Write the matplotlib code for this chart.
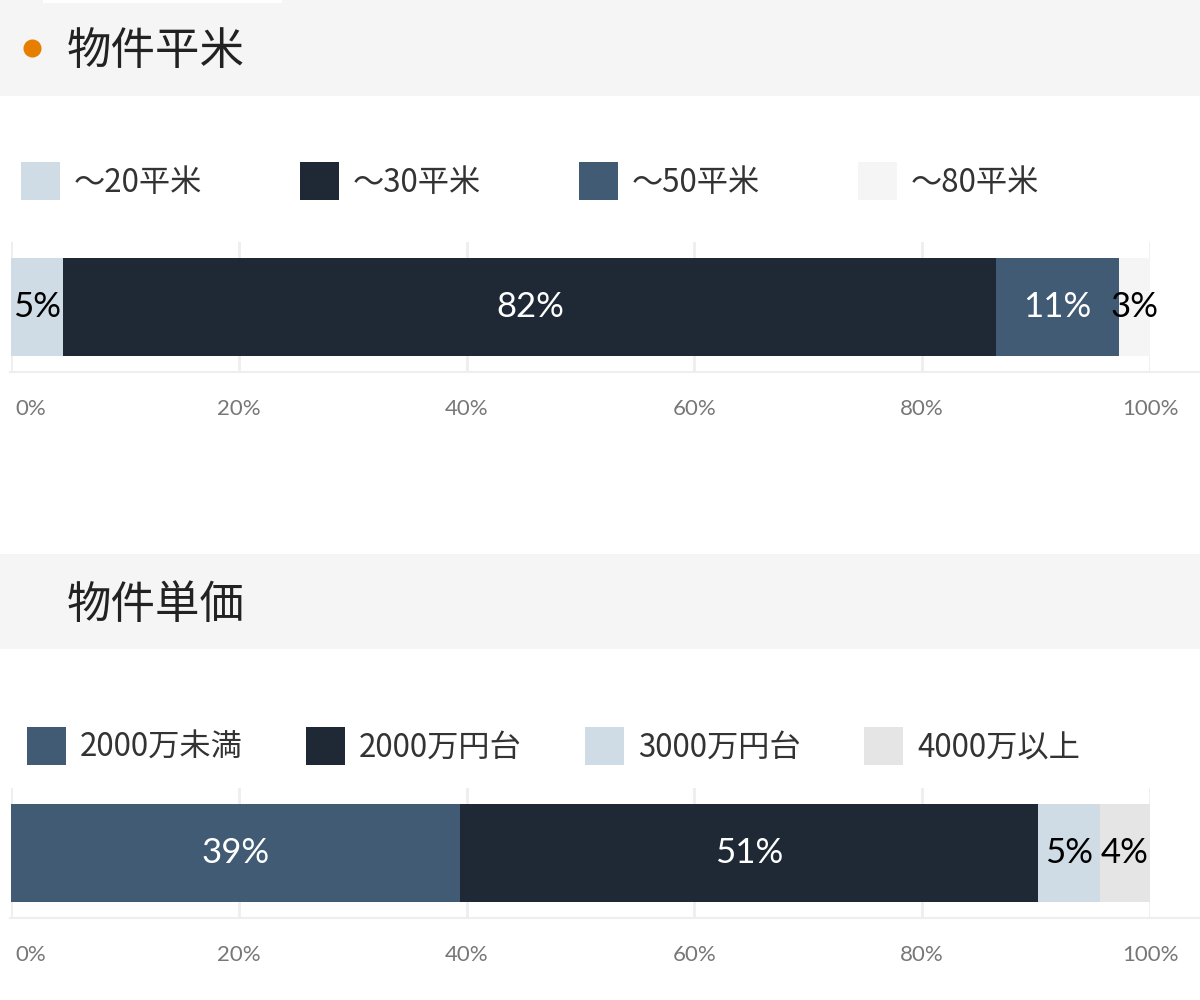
import matplotlib

matplotlib.use("Agg")
import matplotlib.pyplot as plt
from matplotlib.lines import Line2D
from matplotlib.patches import Rectangle

plt.rcParams["font.family"] = ["Lato", "Noto Sans CJK JP", "DejaVu Sans"]

W, H = 1200, 1000

# data
AREA_TITLE = "物件平米"
AREA_LABELS = ["～20平米", "～30平米", "～50平米", "～80平米"]
AREA_VALUES = [4.6, 81.9, 10.8, 2.7]
AREA_TEXT = ["5%", "82%", "11%", "3%"]
AREA_COLORS = ["#cfdbe5", "#1e2935", "#415b75", "#f5f5f5"]

PRICE_TITLE = "物件単価"
PRICE_LABELS = ["2000万未満", "2000万円台", "3000万円台", "4000万以上"]
PRICE_VALUES = [39.4, 50.8, 5.4, 4.4]
PRICE_TEXT = ["39%", "51%", "5%", "4%"]
PRICE_COLORS = ["#415b75", "#1e2935", "#cfdbe5", "#e5e5e5"]

TICKS = [0, 20, 40, 60, 80, 100]
TICK_LABELS = ["0%", "20%", "40%", "60%", "80%", "100%"]

DARK = {"#1e2935", "#415b75"}
CJK = ["Noto Sans CJK JP", "DejaVu Sans"]


def fx(x):
    return x / W


def fy(y):
    return 1 - y / H


def header(fig, y0, y1, title, dot):
    fig.add_artist(Rectangle((0, fy(y1)), 1, (y1 - y0) / H, transform=fig.transFigure,
                             facecolor="#f5f5f5", edgecolor="none", zorder=0))
    yc = (y0 + y1) / 2
    if dot:
        fig.add_artist(Line2D([fx(32)], [fy(yc)], transform=fig.transFigure, marker="o",
                              markersize=13, markerfacecolor="#e67e00", markeredgecolor="none",
                              linestyle="none"))
    fig.text(fx(67), fy(yc + 3), title, fontsize=32, color="#222222", ha="left", va="center",
             family=CJK)


def legend(fig, x_start, y0, labels, colors):
    for i, (lab, col) in enumerate(zip(labels, colors)):
        x = x_start + i * 279
        fig.add_artist(Rectangle((fx(x), fy(y0 + 38)), 39 / W, 38 / H, transform=fig.transFigure,
                                 facecolor=col, edgecolor="none"))
        fig.text(fx(x + 53), fy(y0 + 21), lab, fontsize=22.5, color="#333333",
                 ha="left", va="center", family=CJK)


def bar(fig, y_top, y_base, values, texts, colors):
    ax = fig.add_axes([fx(11), fy(y_base), fx(1150) - fx(11), (y_base - y_top) / H])
    ax.set_xlim(0, 100)
    ax.set_ylim(-0.5, 0.5)
    for t in TICKS:
        ax.axvline(t, color="#eeeeee", lw=2, zorder=0)
    left = 0.0
    for v, txt, col in zip(values, texts, colors):
        ax.barh(0, v, left=left, height=0.75, color=col, edgecolor="none", zorder=2)
        tc = "white" if col in DARK else "black"
        ax.text(left + v / 2, 0, txt, ha="center", va="center", color=tc,
                fontsize=25, zorder=3)
        left += v
    ax.set_axis_off()
    fig.add_artist(Line2D([fx(10), 1], [fy(y_base), fy(y_base)], transform=fig.transFigure,
                          color="#eeeeee", lw=1.5))
    for t, lab in zip(TICKS, TICK_LABELS):
        xpix = 11 + t * 11.39
        if t == 0:
            fig.text(fx(15), fy(y_base + 37), lab, ha="left", va="center",
                     fontsize=16, color="#777777")
        else:
            fig.text(fx(xpix), fy(y_base + 37), lab, ha="center", va="center",
                     fontsize=16, color="#777777")


fig = plt.figure(figsize=(W / 100, H / 100), dpi=100)
fig.patch.set_facecolor("white")

header(fig, 0, 96, AREA_TITLE, True)
fig.add_artist(Rectangle((fx(43), fy(3)), 239 / W, 3 / H, transform=fig.transFigure,
                         facecolor="white", edgecolor="none"))
legend(fig, 21, 162, AREA_LABELS, AREA_COLORS)
bar(fig, 242, 372, AREA_VALUES, AREA_TEXT, AREA_COLORS)

header(fig, 554, 649, PRICE_TITLE, False)
legend(fig, 27, 727, PRICE_LABELS, PRICE_COLORS)
bar(fig, 788, 918, PRICE_VALUES, PRICE_TEXT, PRICE_COLORS)

fig.savefig("out.png", dpi=100)
